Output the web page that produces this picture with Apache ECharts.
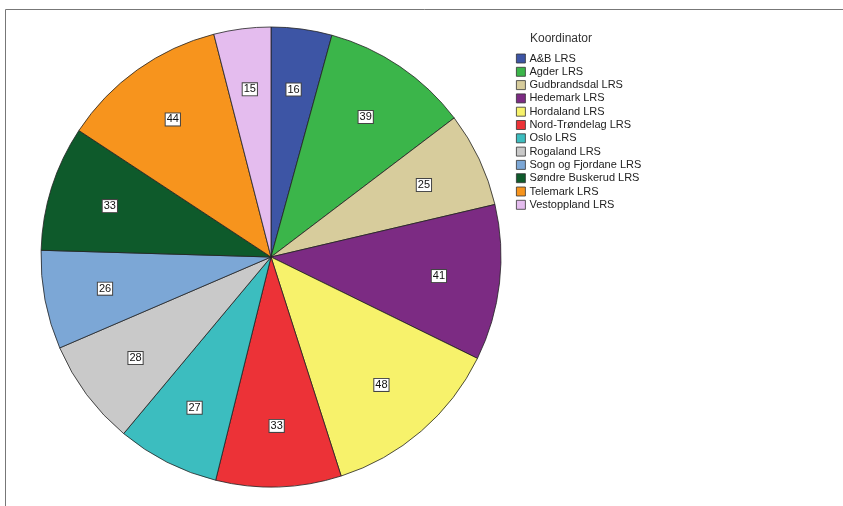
<!DOCTYPE html>
<html><head><meta charset="utf-8">
<script src="https://cdn.jsdelivr.net/npm/echarts@6/dist/echarts.min.js"></script>
<style>html,body{margin:0;padding:0;background:#fff}#c{width:843px;height:506px}</style>
</head><body><div id="c"></div>
<script>
const categories = ['A&B LRS','Agder LRS','Gudbrandsdal LRS','Hedemark LRS','Hordaland LRS','Nord-Trøndelag LRS','Oslo LRS','Rogaland LRS','Sogn og Fjordane LRS','Søndre Buskerud LRS','Telemark LRS','Vestoppland LRS'];
const values = [16,39,25,41,48,33,27,28,26,33,44,15];
const colors = ['#3D55A5','#3BB54A','#D7CC9C','#7C2B83','#F7F26B','#EC3237','#3CBDBF','#C9C9C9','#7CA7D6','#0E5A2B','#F7941D','#E4BCEE'];
const data = categories.map((n,i)=>({name:n,value:values[i]}));
const chart = echarts.init(document.getElementById('c'));
chart.setOption({
  animation:false,
  color:colors,
  title:{text:'Koordinator',left:561,top:33,textAlign:'center',padding:0,textStyle:{fontFamily:'Liberation Sans, Arial',fontSize:12,fontWeight:'normal',color:'#333'}},
  legend:{orient:'vertical',left:516,top:53,padding:0,itemWidth:9,itemHeight:9,itemGap:2.3,icon:'rect',
    itemStyle:{borderColor:'#333',borderWidth:0.8},
    textStyle:{fontFamily:'Liberation Sans, Arial',fontSize:11,color:'#222',padding:[0,0,0,-1]},
    data:categories},
  graphic:[
    {type:'line',shape:{x1:5.5,y1:9.5,x2:843,y2:9.5},style:{stroke:'#777',lineWidth:1}},
    {type:'line',shape:{x1:5.5,y1:9.5,x2:5.5,y2:506},style:{stroke:'#777',lineWidth:1}}
  ],
  series:[
    {type:'pie',center:[271,257],radius:230,startAngle:90,clockwise:true,data:data,
     label:{show:false},labelLine:{show:false},emphasis:{disabled:true},
     itemStyle:{borderColor:'#222',borderWidth:0.8}},
    {type:'pie',center:[271,257],radius:[102,230],startAngle:90,clockwise:true,data:data,silent:true,
     itemStyle:{color:'rgba(0,0,0,0)',borderWidth:0},emphasis:{disabled:true},
     labelLine:{show:false},
     label:{show:true,position:'inside',formatter:'{c}',fontFamily:'Liberation Sans, Arial',fontSize:11,color:'#111',
       backgroundColor:'#fff',borderColor:'#444',borderWidth:1,padding:[1,1,0,1]}}
  ]
});
</script></body></html>
